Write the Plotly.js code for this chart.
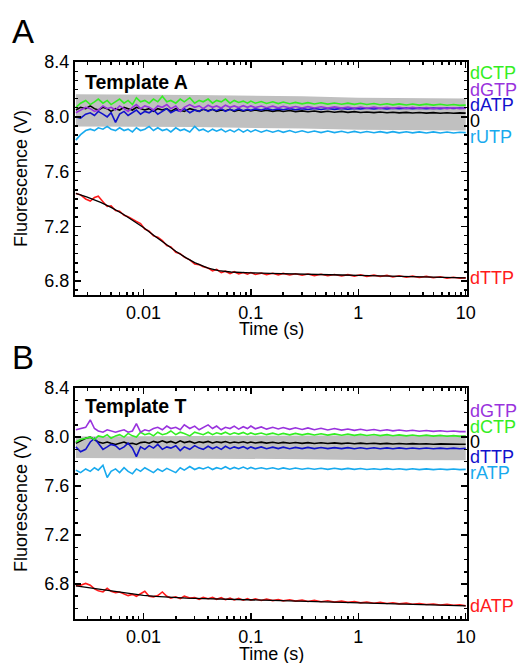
<!DOCTYPE html>
<html>
<head>
<meta charset="utf-8">
<script src="https://cdn.plot.ly/plotly-3.0.1.min.js"></script>
<style>html,body{margin:0;padding:0;background:#fff;}#chart{width:523px;height:663px;}</style>
</head>
<body>
<div id="chart"></div>
<script>
// ---------- DATA ----------
const time = [
  0.00235, 0.0026, 0.0029, 0.0032, 0.0035, 0.0038, 0.0042, 0.0046, 0.005, 0.0055,
  0.006, 0.0066, 0.0072, 0.0079, 0.0086, 0.0094, 0.0103, 0.0113, 0.0124, 0.0136,
  0.015, 0.0165, 0.018, 0.02, 0.022, 0.024, 0.027, 0.03, 0.033, 0.036,
  0.04, 0.044, 0.048, 0.053, 0.058, 0.064, 0.07, 0.077, 0.085, 0.093,
  0.1, 0.11, 0.125, 0.14, 0.16, 0.18, 0.2, 0.23, 0.26, 0.3,
  0.34, 0.39, 0.45, 0.52, 0.6, 0.7, 0.8, 0.92, 1.05, 1.2,
  1.4, 1.6, 1.85, 2.1, 2.4, 2.8, 3.2, 3.7, 4.3, 5,
  5.8, 6.7, 7.7, 8.8, 10
];
const timeFit = [0.00235, 0.003, 0.004, 0.005, 0.0065, 0.008, 0.01, 0.013, 0.016, 0.02,
  0.025, 0.03, 0.04, 0.05, 0.065, 0.08, 0.1, 0.15, 0.2, 0.3, 0.5, 0.7, 1, 2, 3, 5, 7, 10];
const bandTime = [0.00235, 0.03, 0.3, 1, 10];

// Panel A : Template A
const a_dCTP = [
  8.07, 8.10, 8.12, 8.09, 8.11, 8.13, 8.10, 8.12, 8.09, 8.11,
  8.13, 8.10, 8.12, 8.09, 8.14, 8.11, 8.12, 8.10, 8.13, 8.11,
  8.15, 8.11, 8.12, 8.10, 8.13, 8.11, 8.14, 8.10, 8.12, 8.11,
  8.13, 8.10, 8.12, 8.11, 8.13, 8.10, 8.12, 8.105, 8.115, 8.10,
  8.115, 8.10, 8.112, 8.098, 8.11, 8.097, 8.108, 8.096, 8.106, 8.095,
  8.104, 8.094, 8.103, 8.093, 8.101, 8.092, 8.1, 8.091, 8.099, 8.09,
  8.098, 8.089, 8.096, 8.088, 8.095, 8.087, 8.094, 8.086, 8.093, 8.086,
  8.092, 8.085, 8.09, 8.084, 8.086
];
const a_dGTP = [
  8.03, 8.05, 8.07, 8.06, 8.04, 8.05, 8.08, 8.06, 8.07, 8.05,
  8.08, 8.06, 8.04, 8.07, 8.09, 8.06, 8.08, 8.07, 8.05, 8.08,
  8.07, 8.09, 8.06, 8.08, 8.04, 8.07, 8.09, 8.07, 8.08, 8.06,
  8.085, 8.07, 8.08, 8.065, 8.085, 8.07, 8.08, 8.068, 8.082, 8.07,
  8.08, 8.068, 8.079, 8.067, 8.078, 8.066, 8.077, 8.066, 8.076, 8.065,
  8.075, 8.065, 8.074, 8.064, 8.073, 8.064, 8.072, 8.063, 8.072, 8.063,
  8.071, 8.062, 8.07, 8.062, 8.07, 8.061, 8.069, 8.061, 8.068, 8.06,
  8.067, 8.06, 8.066, 8.06, 8.063
];
const a_dATP = [
  8.00, 7.99, 8.02, 8.03, 8.01, 8.04, 8.02, 8.00, 8.03, 7.96,
  8.02, 8.04, 8.01, 8.03, 8.05, 8.02, 8.04, 8.03, 8.05, 8.02,
  8.04, 8.06, 8.03, 8.05, 8.04, 8.06, 8.03, 8.05, 8.04, 8.06,
  8.04, 8.055, 8.045, 8.06, 8.04, 8.055, 8.045, 8.06, 8.045, 8.055,
  8.048, 8.058, 8.05, 8.06, 8.05, 8.058, 8.052, 8.06, 8.052, 8.06,
  8.054, 8.061, 8.054, 8.061, 8.055, 8.062, 8.056, 8.062, 8.057, 8.063,
  8.057, 8.063, 8.058, 8.063, 8.059, 8.064, 8.059, 8.064, 8.06, 8.064,
  8.06, 8.065, 8.061, 8.065, 8.063
];
const a_zero = [
  8.05, 8.07, 8.06, 8.08, 8.06, 8.05, 8.07, 8.06, 8.04, 8.06,
  8.05, 8.07, 8.06, 8.05, 8.07, 8.06, 8.05, 8.06, 8.04, 8.06,
  8.05, 8.06, 8.04, 8.06, 8.05, 8.04, 8.06, 8.05, 8.04, 8.055,
  8.045, 8.055, 8.04, 8.05, 8.045, 8.055, 8.04, 8.05, 8.042, 8.05,
  8.043, 8.05, 8.041, 8.048, 8.04, 8.047, 8.039, 8.046, 8.038, 8.044,
  8.037, 8.043, 8.035, 8.041, 8.034, 8.04, 8.033, 8.038, 8.032, 8.036,
  8.031, 8.035, 8.03, 8.034, 8.029, 8.033, 8.028, 8.032, 8.027, 8.031,
  8.026, 8.03, 8.026, 8.029, 8.027
];
const a_rUTP = [
  7.83, 7.87, 7.90, 7.91, 7.90, 7.92, 7.91, 7.93, 7.91, 7.90,
  7.92, 7.90, 7.91, 7.89, 7.92, 7.90, 7.91, 7.93, 7.90, 7.92,
  7.90, 7.91, 7.89, 7.92, 7.90, 7.91, 7.89, 7.93, 7.90, 7.91,
  7.89, 7.91, 7.895, 7.91, 7.89, 7.905, 7.89, 7.91, 7.888, 7.905,
  7.89, 7.905, 7.888, 7.902, 7.888, 7.9, 7.887, 7.9, 7.886, 7.898,
  7.886, 7.897, 7.885, 7.896, 7.885, 7.895, 7.884, 7.894, 7.884, 7.893,
  7.884, 7.892, 7.883, 7.892, 7.883, 7.891, 7.883, 7.89, 7.882, 7.89,
  7.882, 7.889, 7.882, 7.888, 7.885
];
const a_dTTP = [
  7.44, 7.43, 7.40, 7.385, 7.41, 7.42, 7.38, 7.345, 7.35, 7.315,
  7.31, 7.28, 7.27, 7.25, 7.235, 7.22, 7.18, 7.165, 7.13, 7.12,
  7.095, 7.06, 7.05, 7.01, 7.0, 6.975, 6.955, 6.925, 6.92, 6.905,
  6.895, 6.875, 6.885, 6.862, 6.872, 6.855, 6.868, 6.852, 6.862, 6.85,
  6.862, 6.848, 6.858, 6.846, 6.857, 6.845, 6.856, 6.844, 6.853, 6.842,
  6.851, 6.84, 6.85, 6.839, 6.848, 6.837, 6.847, 6.836, 6.846, 6.834,
  6.843, 6.833, 6.841, 6.83, 6.839, 6.828, 6.836, 6.826, 6.834, 6.824,
  6.831, 6.821, 6.828, 6.82, 6.823
];
const a_fit = [7.44, 7.414, 7.375, 7.338, 7.288, 7.243, 7.191, 7.124, 7.072, 7.018,
  6.969, 6.935, 6.895, 6.876, 6.866, 6.862, 6.86, 6.856, 6.853, 6.85,
  6.846, 6.844, 6.842, 6.836, 6.833, 6.829, 6.826, 6.823];
const a_bandUpper = [8.165, 8.16, 8.15, 8.14, 8.135];
const a_bandLower = [7.93, 7.925, 7.915, 7.905, 7.90];

// Panel B : Template T
const b_dGTP = [
  8.06, 8.07, 8.08, 8.14, 8.07, 8.05, 8.04, 8.06, 8.05, 8.04,
  8.05, 8.06, 8.04, 8.05, 8.11, 8.04, 8.06, 8.05, 8.07, 8.08,
  8.06, 8.09, 8.07, 8.08, 8.06, 8.10, 8.07, 8.09, 8.06, 8.08,
  8.10, 8.07, 8.09, 8.06, 8.08, 8.07, 8.09, 8.065, 8.085, 8.07,
  8.09, 8.068, 8.083, 8.065, 8.08, 8.066, 8.078, 8.063, 8.076, 8.062,
  8.075, 8.06, 8.072, 8.058, 8.07, 8.057, 8.066, 8.055, 8.064, 8.054,
  8.062, 8.052, 8.06, 8.051, 8.058, 8.05, 8.056, 8.048, 8.054, 8.047,
  8.052, 8.046, 8.05, 8.045, 8.045
];
const b_dCTP = [
  7.96, 7.98, 7.99, 8.00, 7.98, 8.01, 8.00, 8.02, 7.99, 8.01,
  8.02, 8.00, 8.03, 8.01, 8.00, 8.04, 8.02, 8.03, 8.01, 8.04,
  8.02, 8.03, 8.05, 8.02, 8.04, 8.03, 8.01, 8.04, 8.03, 8.02,
  8.04, 8.02, 8.035, 8.025, 8.04, 8.022, 8.035, 8.025, 8.038, 8.022,
  8.034, 8.022, 8.033, 8.02, 8.032, 8.02, 8.03, 8.018, 8.03, 8.018,
  8.028, 8.017, 8.027, 8.016, 8.026, 8.015, 8.024, 8.014, 8.022, 8.013,
  8.021, 8.012, 8.02, 8.011, 8.018, 8.01, 8.017, 8.009, 8.016, 8.008,
  8.014, 8.007, 8.012, 8.006, 8.008
];
const b_zero = [
  7.95, 7.97, 7.99, 8.00, 7.98, 7.96, 7.95, 7.96, 7.95, 7.94,
  7.95, 7.96, 7.945, 7.95, 7.94, 7.955, 7.96, 7.95, 7.965, 7.955,
  7.97, 7.955, 7.965, 7.95, 7.97, 7.955, 7.965, 7.95, 7.962, 7.955,
  7.965, 7.952, 7.962, 7.955, 7.964, 7.952, 7.96, 7.954, 7.962, 7.952,
  7.96, 7.952, 7.959, 7.951, 7.958, 7.95, 7.957, 7.95, 7.956, 7.949,
  7.955, 7.948, 7.954, 7.948, 7.953, 7.947, 7.952, 7.946, 7.951, 7.946,
  7.95, 7.945, 7.949, 7.944, 7.948, 7.943, 7.947, 7.943, 7.946, 7.942,
  7.945, 7.942, 7.944, 7.941, 7.942
];
const b_dTTP = [
  7.92, 7.88, 7.90, 7.96, 7.99, 7.95, 7.90, 7.92, 7.94, 7.93,
  7.90, 7.92, 7.95, 7.91, 7.84, 7.92, 7.90, 7.93, 7.91, 7.94,
  7.90, 7.92, 7.91, 7.93, 7.89, 7.92, 7.90, 7.93, 7.91, 7.90,
  7.925, 7.905, 7.92, 7.90, 7.925, 7.905, 7.92, 7.908, 7.922, 7.905,
  7.92, 7.906, 7.92, 7.905, 7.918, 7.906, 7.918, 7.905, 7.916, 7.906,
  7.916, 7.906, 7.915, 7.906, 7.914, 7.906, 7.914, 7.905, 7.913, 7.905,
  7.913, 7.905, 7.912, 7.905, 7.912, 7.905, 7.911, 7.905, 7.911, 7.905,
  7.91, 7.905, 7.91, 7.905, 7.908
];
const b_rATP = [
  7.73, 7.71, 7.74, 7.72, 7.75, 7.73, 7.77, 7.67, 7.72, 7.74,
  7.71, 7.75, 7.72, 7.70, 7.74, 7.72, 7.75, 7.73, 7.71, 7.74,
  7.72, 7.745, 7.73, 7.71, 7.75, 7.73, 7.76, 7.735, 7.75, 7.74,
  7.755, 7.735, 7.75, 7.74, 7.758, 7.738, 7.752, 7.74, 7.755, 7.74,
  7.752, 7.74, 7.75, 7.739, 7.75, 7.738, 7.748, 7.738, 7.747, 7.737,
  7.746, 7.737, 7.745, 7.736, 7.745, 7.736, 7.744, 7.736, 7.743, 7.735,
  7.742, 7.735, 7.742, 7.735, 7.741, 7.734, 7.741, 7.734, 7.74, 7.734,
  7.739, 7.734, 7.739, 7.734, 7.736
];
const b_dATP = [
  6.785, 6.79, 6.805, 6.79, 6.76, 6.745, 6.735, 6.765, 6.74, 6.73,
  6.735, 6.72, 6.705, 6.715, 6.70, 6.72, 6.74, 6.70, 6.695, 6.705,
  6.735, 6.70, 6.685, 6.695, 6.68, 6.70, 6.685, 6.69, 6.675, 6.69,
  6.68, 6.69, 6.675, 6.688, 6.672, 6.684, 6.67, 6.682, 6.668, 6.68,
  6.668, 6.678, 6.665, 6.676, 6.664, 6.673, 6.662, 6.671, 6.66, 6.668,
  6.657, 6.666, 6.655, 6.663, 6.652, 6.66, 6.65, 6.657, 6.646, 6.653,
  6.643, 6.65, 6.641, 6.647, 6.638, 6.644, 6.635, 6.641, 6.632, 6.637,
  6.629, 6.634, 6.626, 6.63, 6.622
];
const b_fit = [6.785, 6.772, 6.755, 6.742, 6.728, 6.717, 6.707, 6.698, 6.692, 6.688,
  6.685, 6.683, 6.68, 6.678, 6.676, 6.674, 6.672, 6.668, 6.665, 6.66,
  6.655, 6.651, 6.646, 6.639, 6.635, 6.63, 6.626, 6.622];
const b_bandUpper = [8.005, 8.01, 8.015, 8.017, 8.017];
const b_bandLower = [7.83, 7.825, 7.82, 7.812, 7.81];

// Label texts
const panelLetters = ['A', 'B'];
const templateNames = ['Template A', 'Template T'];
const xTitle = 'Time (s)';
const yTitle = 'Fluorescence (V)';
const labelsA = ['dCTP', 'dGTP', 'dATP', '0', 'rUTP', 'dTTP'];
const labelYA = [8.317, 8.195, 8.086, 7.969, 7.854, 6.82];
const labelsB = ['dGTP', 'dCTP', '0', 'dTTP', 'rATP', 'dATP'];
const labelYB = [8.215, 8.084, 7.962, 7.834, 7.709, 6.62];

// ---------- STYLE ----------
const FONT = 'Liberation Sans, Arial, Helvetica, sans-serif';
const C = {
  dCTP: '#33ee22', dGTP: '#9933dd', dATP: '#1111cc', zero: '#000000',
  rNTP: '#18aaee', red: '#ff1a1a', band: '#c0c0c0'
};
const colorsA = [C.dCTP, C.dGTP, C.dATP, C.zero, C.rNTP, C.red];
const colorsB = [C.dGTP, C.dCTP, C.zero, C.dATP, C.rNTP, C.red];

function check(name, arr, ref) {
  if (arr.length !== ref.length) throw new Error(name + ' has ' + arr.length + ' vs ' + ref.length);
}
[['a_dCTP',a_dCTP],['a_dGTP',a_dGTP],['a_dATP',a_dATP],['a_zero',a_zero],['a_rUTP',a_rUTP],['a_dTTP',a_dTTP],
 ['b_dGTP',b_dGTP],['b_dCTP',b_dCTP],['b_zero',b_zero],['b_dTTP',b_dTTP],['b_rATP',b_rATP],['b_dATP',b_dATP]]
 .forEach(p => check(p[0], p[1], time));
check('a_fit', a_fit, timeFit); check('b_fit', b_fit, timeFit);

function line(x, y, color, xa, ya, w) {
  return {x: x, y: y, type: 'scatter', mode: 'lines', xaxis: xa, yaxis: ya,
    line: {color: color, width: w || 1.6}, hoverinfo: 'skip', showlegend: false};
}
function band(up, lo, xa, ya) {
  return {x: bandTime.concat(bandTime.slice().reverse()), y: up.concat(lo.slice().reverse()),
    type: 'scatter', mode: 'lines', fill: 'toself', fillcolor: C.band, line: {width: 0, color: C.band},
    xaxis: xa, yaxis: ya, hoverinfo: 'skip', showlegend: false};
}

const traces = [
  band(a_bandUpper, a_bandLower, 'x', 'y'),
  line(time, a_rUTP, C.rNTP, 'x', 'y'),
  line(time, a_dTTP, C.red, 'x', 'y'),
  line(timeFit, a_fit, '#000', 'x', 'y', 1.3),
  line(time, a_zero, C.zero, 'x', 'y'),
  line(time, a_dATP, C.dATP, 'x', 'y'),
  line(time, a_dGTP, C.dGTP, 'x', 'y'),
  line(time, a_dCTP, C.dCTP, 'x', 'y'),

  band(b_bandUpper, b_bandLower, 'x2', 'y2'),
  line(time, b_rATP, C.rNTP, 'x2', 'y2'),
  line(time, b_dATP, C.red, 'x2', 'y2'),
  line(timeFit, b_fit, '#000', 'x2', 'y2', 1.3),
  line(time, b_zero, C.zero, 'x2', 'y2'),
  line(time, b_dTTP, C.dATP, 'x2', 'y2'),
  line(time, b_dCTP, C.dCTP, 'x2', 'y2'),
  line(time, b_dGTP, C.dGTP, 'x2', 'y2')
];

function xAxis(anchor) {
  return {
    type: 'log', range: [-2.637, 1.012], domain: [0, 1], anchor: anchor,
    showline: true, linecolor: '#000', linewidth: 2, mirror: 'allticks',
    ticks: 'inside', ticklen: 6, tickwidth: 1.5, tickcolor: '#000', dtick: 1,
    minor: {ticks: 'inside', ticklen: 3, tickwidth: 1.5, tickcolor: '#000', dtick: 'D1'},
    showgrid: false, zeroline: false,
    tickfont: {family: FONT, size: 18, color: '#000'}
  };
}
function yAxis(domain, range, minorDt, anchor) {
  return {
    domain: domain, range: range, anchor: anchor,
    showline: true, linecolor: '#000', linewidth: 2, mirror: 'allticks',
    ticks: 'inside', ticklen: 6, tickwidth: 1.5, tickcolor: '#000',
    tick0: 0, dtick: 0.4, tickformat: '.1f',
    minor: {ticks: 'inside', ticklen: 3, tickwidth: 1.5, tickcolor: '#000', dtick: minorDt},
    showgrid: false, zeroline: false,
    tickfont: {family: FONT, size: 18, color: '#000'},
    title: {text: yTitle, font: {family: FONT, size: 18, color: '#000'}, standoff: 12}
  };
}

const annotations = [];
annotations.push({text: panelLetters[0], xref: 'paper', yref: 'paper', x: -0.165, y: 1.054, xanchor: 'left', yanchor: 'middle',
  showarrow: false, font: {family: FONT, size: 33, color: '#000'}});
annotations.push({text: panelLetters[1], xref: 'paper', yref: 'paper', x: -0.165, y: 0.470, xanchor: 'left', yanchor: 'middle',
  showarrow: false, font: {family: FONT, size: 33, color: '#000'}});
annotations.push({text: '<b>' + templateNames[0] + '</b>', xref: 'x domain', yref: 'y domain', x: 0.02, y: 0.915,
  xanchor: 'left', yanchor: 'middle', showarrow: false, font: {family: FONT, size: 19.5, color: '#000'}});
annotations.push({text: '<b>' + templateNames[1] + '</b>', xref: 'x2 domain', yref: 'y2 domain', x: 0.02, y: 0.922,
  xanchor: 'left', yanchor: 'middle', showarrow: false, font: {family: FONT, size: 19.5, color: '#000'}});
annotations.push({text: xTitle, xref: 'x domain', yref: 'y domain', x: 0.5, y: 0, yshift: -34,
  xanchor: 'center', yanchor: 'middle', showarrow: false, borderpad: 0, font: {family: FONT, size: 18, color: '#000'}});
annotations.push({text: xTitle, xref: 'x2 domain', yref: 'y2 domain', x: 0.5, y: 0, yshift: -35,
  xanchor: 'center', yanchor: 'middle', showarrow: false, borderpad: 0, font: {family: FONT, size: 18, color: '#000'}});
labelsA.forEach((t, i) => annotations.push({text: t, xref: 'x domain', yref: 'y', x: 1, y: labelYA[i],
  xanchor: 'left', yanchor: 'middle', xshift: 2, showarrow: false, borderpad: 0,
  font: {family: FONT, size: 18, color: colorsA[i]}}));
labelsB.forEach((t, i) => annotations.push({text: t, xref: 'x2 domain', yref: 'y2', x: 1, y: labelYB[i],
  xanchor: 'left', yanchor: 'middle', xshift: 2, showarrow: false, borderpad: 0,
  font: {family: FONT, size: 18, color: colorsB[i]}}));

const layout = {
  width: 523, height: 663,
  margin: {l: 75, r: 56, t: 62, b: 44, pad: 0},
  paper_bgcolor: '#fff', plot_bgcolor: '#fff',
  showlegend: false,
  font: {family: FONT, color: '#000'},
  xaxis: xAxis('y'),
  xaxis2: xAxis('y2'),
  yaxis: yAxis([0.5817, 1], [6.698, 8.401], 0.4 / 6, 'x'),
  yaxis2: yAxis([0, 0.4147], [6.514, 8.401], 0.1, 'x2'),
  annotations: annotations
};

Plotly.newPlot('chart', traces, layout, {staticPlot: true, displayModeBar: false});
</script>
</body>
</html>
